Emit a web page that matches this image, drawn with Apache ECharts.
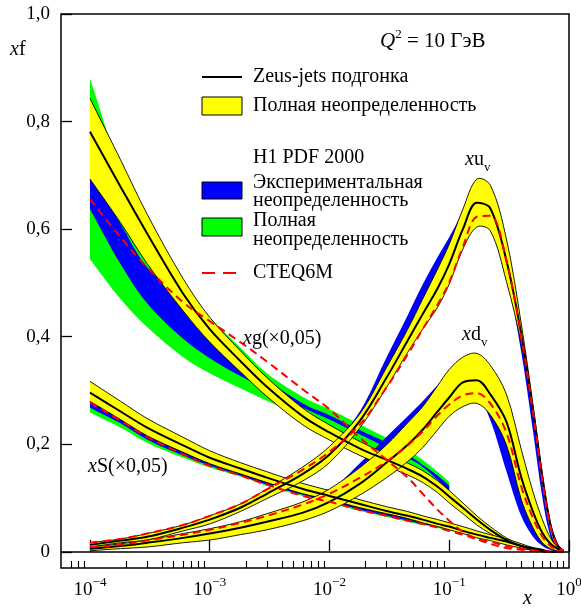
<!DOCTYPE html>
<html>
<head>
<meta charset="utf-8">
<script src="https://cdn.jsdelivr.net/npm/echarts@6/dist/echarts.min.js"></script>
<style>
  html, body { margin: 0; padding: 0; background: #fff; }
  #chart { width: 581px; height: 610px; }
</style>
</head>
<body>
<div id="chart"></div>
<script>
// x grid used by the Zeus and CTEQ curves
const xGrid = [0.0001, 0.00018, 0.0003, 0.0006, 0.001, 0.0018, 0.003, 0.006, 0.01, 0.018, 0.03, 0.045, 0.06, 0.08, 0.1,
  0.13, 0.17, 0.22, 0.3, 0.4, 0.5, 0.6, 0.7, 0.8, 0.9];
// H1 gluon / sea bands stop at x = 0.1
const xH1Sea = [0.0001, 0.00018, 0.0003, 0.0006, 0.001, 0.0018, 0.003, 0.006, 0.01, 0.018, 0.03, 0.045, 0.06, 0.08, 0.1];
// H1 valence bands
const xH1Val = [0.003, 0.006, 0.01, 0.018, 0.03, 0.045, 0.06, 0.08, 0.1, 0.13, 0.17, 0.22, 0.3, 0.4, 0.5, 0.6, 0.7, 0.8, 0.9];

// xg (x0,05)
const gZeus = [0.781, 0.679, 0.592, 0.480, 0.414, 0.355, 0.307, 0.252, 0.222, 0.192, 0.171, 0.154, 0.140, 0.121, 0.103, 0.082, 0.060, 0.041, 0.022, 0.011, 0.006, 0.002, 0, 0, 0];
const gZeusHi = [0.843, 0.729, 0.628, 0.508, 0.436, 0.374, 0.324, 0.267, 0.236, 0.205, 0.182, 0.165, 0.151, 0.132, 0.114, 0.091, 0.067, 0.047, 0.026, 0.013, 0.007, 0.003, 0, 0, 0];
const gZeusLo = [0.693, 0.612, 0.536, 0.448, 0.390, 0.335, 0.289, 0.236, 0.208, 0.179, 0.159, 0.143, 0.129, 0.110, 0.091, 0.071, 0.050, 0.034, 0.017, 0.007, 0.003, 0.001, 0, 0, 0];
const gH1TotHi = [0.880, 0.712, 0.618, 0.502, 0.436, 0.380, 0.332, 0.288, 0.265, 0.237, 0.212, 0.190, 0.171, 0.149, 0.130];
const gH1TotLo = [0.544, 0.470, 0.418, 0.362, 0.332, 0.304, 0.281, 0.251, 0.228, 0.203, 0.181, 0.162, 0.147, 0.125, 0.097];
const gH1ExpHi = [0.703, 0.610, 0.529, 0.470, 0.414, 0.365, 0.321, 0.276, 0.254, 0.226, 0.203, 0.181, 0.162, 0.142, 0.123];
const gH1ExpLo = [0.637, 0.535, 0.462, 0.396, 0.360, 0.327, 0.302, 0.268, 0.246, 0.218, 0.194, 0.175, 0.158, 0.134, 0.108];
const gCteq = [0.656, 0.585, 0.529, 0.464, 0.429, 0.390, 0.354, 0.302, 0.265, 0.212, 0.171, 0.138, 0.108, 0.078, 0.058, 0.037, 0.024, 0.015, 0.007, 0.004, 0.002, 0, 0, 0, 0];

// xS (x0,05)
const sZeus = [0.296, 0.261, 0.231, 0.198, 0.175, 0.155, 0.138, 0.117, 0.104, 0.089, 0.076, 0.067, 0.060, 0.052, 0.047, 0.039, 0.032, 0.026, 0.019, 0.011, 0.006, 0.003, 0, 0, 0];
const sZeusHi = [0.317, 0.280, 0.248, 0.213, 0.188, 0.166, 0.149, 0.127, 0.114, 0.097, 0.084, 0.075, 0.067, 0.060, 0.054, 0.047, 0.039, 0.032, 0.024, 0.015, 0.008, 0.005, 0, 0, 0];
const sZeusLo = [0.280, 0.246, 0.216, 0.185, 0.164, 0.145, 0.129, 0.108, 0.097, 0.082, 0.071, 0.062, 0.054, 0.047, 0.041, 0.034, 0.026, 0.021, 0.013, 0.007, 0.003, 0.001, 0, 0, 0];
const sH1TotHi = [0.287, 0.250, 0.220, 0.188, 0.168, 0.149, 0.132, 0.112, 0.101, 0.086, 0.075, 0.065, 0.058, 0.050, 0.045];
const sH1TotLo = [0.259, 0.231, 0.203, 0.175, 0.157, 0.140, 0.123, 0.104, 0.091, 0.076, 0.065, 0.056, 0.050, 0.045, 0.037];
const sH1ExpHi = [0.283, 0.248, 0.218, 0.186, 0.166, 0.147, 0.130, 0.110, 0.099, 0.084, 0.073, 0.063, 0.056, 0.048, 0.043];
const sH1ExpLo = [0.268, 0.239, 0.209, 0.179, 0.160, 0.142, 0.125, 0.106, 0.093, 0.078, 0.067, 0.058, 0.052, 0.047, 0.039];
const sCteq = [0.278, 0.244, 0.214, 0.181, 0.160, 0.142, 0.125, 0.104, 0.093, 0.078, 0.067, 0.058, 0.052, 0.045, 0.039, 0.032, 0.024, 0.019, 0.011, 0.006, 0.003, 0.001, 0, 0, 0];

// xu_v
const uZeus = [0.013, 0.021, 0.028, 0.045, 0.060, 0.082, 0.108, 0.145, 0.181, 0.244, 0.324, 0.393, 0.442, 0.490, 0.535, 0.600, 0.649, 0.639, 0.542, 0.404, 0.265, 0.138, 0.050, 0.013, 0.002];
const uZeusHi = [0.017, 0.024, 0.034, 0.050, 0.067, 0.089, 0.117, 0.158, 0.196, 0.257, 0.343, 0.414, 0.470, 0.526, 0.572, 0.637, 0.693, 0.682, 0.582, 0.423, 0.274, 0.144, 0.054, 0.015, 0.002];
const uZeusLo = [0.009, 0.017, 0.022, 0.039, 0.052, 0.075, 0.099, 0.132, 0.166, 0.231, 0.306, 0.371, 0.414, 0.455, 0.498, 0.563, 0.604, 0.597, 0.503, 0.386, 0.255, 0.132, 0.047, 0.011, 0.001];
const uH1ExpHi = [0.110, 0.150, 0.190, 0.262, 0.362, 0.440, 0.497, 0.548, 0.585, 0.630, 0.660, 0.650, 0.550, 0.400, 0.255, 0.125, 0.040, 0.008, 0];
const uH1ExpLo = [0.102, 0.138, 0.172, 0.236, 0.318, 0.388, 0.440, 0.490, 0.530, 0.585, 0.615, 0.605, 0.515, 0.370, 0.225, 0.100, 0.028, 0.005, 0];
const uCteq = [0.017, 0.024, 0.034, 0.050, 0.067, 0.089, 0.116, 0.153, 0.186, 0.237, 0.306, 0.367, 0.414, 0.460, 0.501, 0.567, 0.623, 0.625, 0.541, 0.399, 0.261, 0.132, 0.047, 0.011, 0.002];

// xd_v
const dZeus = [0.006, 0.011, 0.017, 0.026, 0.034, 0.045, 0.056, 0.073, 0.093, 0.127, 0.166, 0.199, 0.227, 0.261, 0.287, 0.315, 0.319, 0.293, 0.242, 0.138, 0.075, 0.035, 0.015, 0.006, 0.002];
const dZeusHi = [0.009, 0.015, 0.022, 0.034, 0.043, 0.056, 0.071, 0.093, 0.117, 0.157, 0.199, 0.240, 0.270, 0.309, 0.339, 0.362, 0.369, 0.347, 0.293, 0.190, 0.112, 0.060, 0.026, 0.009, 0.002];
const dZeusLo = [0.002, 0.006, 0.009, 0.017, 0.022, 0.032, 0.041, 0.058, 0.076, 0.106, 0.138, 0.168, 0.194, 0.227, 0.252, 0.270, 0.276, 0.255, 0.199, 0.097, 0.045, 0.017, 0.006, 0.002, 0];
const dH1ExpHi = [0.066, 0.088, 0.112, 0.165, 0.214, 0.252, 0.280, 0.310, 0.328, 0.335, 0.325, 0.298, 0.215, 0.118, 0.060, 0.028, 0.010, 0.003, 0];
const dH1ExpLo = [0.058, 0.078, 0.100, 0.145, 0.190, 0.226, 0.255, 0.283, 0.300, 0.305, 0.293, 0.245, 0.150, 0.066, 0.028, 0.011, 0.004, 0, 0];
const dCteq = [0.009, 0.013, 0.021, 0.032, 0.041, 0.054, 0.067, 0.088, 0.108, 0.138, 0.168, 0.198, 0.224, 0.254, 0.274, 0.291, 0.295, 0.276, 0.222, 0.121, 0.063, 0.028, 0.011, 0.004, 0];

// axis ticks
const xMajorTicks = [1e-4, 1e-3, 1e-2, 1e-1, 1];
const yTicks = [0, 0.2, 0.4, 0.6, 0.8, 1.0];
const xMinorTicks = [7e-5, 8e-5, 9e-5];
[1e-4, 1e-3, 1e-2, 1e-1].forEach(d => {
    for (let m = 2; m <= 9; m++) xMinorTicks.push(+(m * d).toPrecision(3));
});

const FONT = '"Liberation Serif", "DejaVu Serif", serif';
const YELLOW = '#ffff00';
const BLUE = '#0000ff';
const GREEN = '#00ff00';
const RED = '#ff0000';
const SMOOTH = 0.35;

// bezier path through pixel points, same idea as the line series smoothing
const smoothD = pts => {
    const n = pts.length;
    const ctrl = pts.map((p, i) => {
        const a = pts[Math.max(i - 1, 0)], b = pts[Math.min(i + 1, n - 1)];
        const vx = b[0] - a[0], vy = b[1] - a[1];
        const lp = Math.hypot(p[0] - a[0], p[1] - a[1]);
        const ln = Math.hypot(b[0] - p[0], b[1] - p[1]);
        const s = lp + ln || 1;
        return [
            [p[0] - vx * SMOOTH * lp / s, p[1] - vy * SMOOTH * lp / s],
            [p[0] + vx * SMOOTH * ln / s, p[1] + vy * SMOOTH * ln / s],
        ];
    });
    let d = '';
    for (let i = 1; i < n; i++) {
        const c1 = ctrl[i - 1][1], c2 = ctrl[i][0], p = pts[i];
        d += ' C' + c1[0] + ' ' + c1[1] + ' ' + c2[0] + ' ' + c2[1] + ' ' + p[0] + ' ' + p[1];
    }
    return d;
};

// filled band between lo and hi, drawn once through the axes
const band = (xs, lo, hi, color, edged) => ({
    type: 'custom', silent: true,
    data: xs.map((x, i) => [x, lo[i], hi[i]]),
    encode: { x: 0, y: [1, 2] },
    renderItem: (params, api) => {
        if (params.dataIndex !== 0) return null;
        const up = xs.map((x, i) => api.coord([x, hi[i]]));
        const dn = xs.map((x, i) => api.coord([x, lo[i]])).reverse();
        const upD = 'M' + up[0][0] + ' ' + up[0][1] + smoothD(up);
        const dnD = 'M' + dn[0][0] + ' ' + dn[0][1] + smoothD(dn);
        const children = [{
            type: 'path',
            shape: { pathData: upD + ' L' + dn[0][0] + ' ' + dn[0][1] + smoothD(dn) + ' Z' },
            style: { fill: color, stroke: null },
        }];
        if (edged) {
            children.push({ type: 'path', shape: { pathData: upD }, style: { fill: null, stroke: '#000', lineWidth: 0.9 } });
            children.push({ type: 'path', shape: { pathData: dnD }, style: { fill: null, stroke: '#000', lineWidth: 0.9 } });
        }
        return { type: 'group', children: children };
    },
});
const curve = (xs, ys, style) => ({
    type: 'line', data: xs.map((x, i) => [x, ys[i]]), symbol: 'none', smooth: SMOOTH, silent: true, lineStyle: style,
});
const solid = { color: '#000', width: 2 };
const dashed = { color: RED, width: 2, type: [8, 5] };

const series = [
    band(xH1Sea, gH1TotLo, gH1TotHi, GREEN, false),
    band(xH1Sea, sH1TotLo, sH1TotHi, GREEN, false),
    band(xH1Sea, gH1ExpLo, gH1ExpHi, BLUE, false),
    band(xH1Sea, sH1ExpLo, sH1ExpHi, BLUE, false),
    band(xH1Val, uH1ExpLo, uH1ExpHi, BLUE, false),
    band(xH1Val, dH1ExpLo, dH1ExpHi, BLUE, false),
    band(xGrid, gZeusLo, gZeusHi, YELLOW, true),
    band(xGrid, sZeusLo, sZeusHi, YELLOW, true),
    band(xGrid, uZeusLo, uZeusHi, YELLOW, true),
    band(xGrid, dZeusLo, dZeusHi, YELLOW, true),
    curve(xGrid, gZeus, solid),
    curve(xGrid, sZeus, solid),
    curve(xGrid, uZeus, solid),
    curve(xGrid, dZeus, solid),
    curve(xGrid, gCteq, dashed),
    curve(xGrid, sCteq, dashed),
    curve(xGrid, uCteq, dashed),
    curve(xGrid, dCteq, dashed),
];
// line at y = 0
series[10].markLine = {
    silent: true, symbol: 'none', label: { show: false },
    lineStyle: { color: '#000', width: 1.5, type: 'solid' },
    data: [{ yAxis: 0 }],
};

const txt = (x, y, text, rich) => ({
    type: 'text', x: x, y: y, z: 100, silent: true,
    style: { text: text, font: '20px ' + FONT, fill: '#000', verticalAlign: 'middle', rich: rich || {} },
});

const italicRich = {
    i: { fontFamily: FONT, fontSize: 20, fontStyle: 'italic', color: '#000', lineHeight: 24, verticalAlign: 'top' },
    n: { fontFamily: FONT, fontSize: 20, color: '#000', lineHeight: 24, verticalAlign: 'top' },
    sub: { fontFamily: FONT, fontSize: 13, color: '#000', lineHeight: 24, verticalAlign: 'bottom' },
    sup: { fontFamily: FONT, fontSize: 13, color: '#000', lineHeight: 24, verticalAlign: 'top' },
    nb: { fontFamily: FONT, fontSize: 21, color: '#000', lineHeight: 24, verticalAlign: 'bottom' },
    ib: { fontFamily: FONT, fontSize: 21, fontStyle: 'italic', color: '#000', lineHeight: 24, verticalAlign: 'bottom' },
};

const graphic = [
    // legend
    { type: 'line', z: 100, silent: true, shape: { x1: 202, y1: 77, x2: 242, y2: 77 }, style: { stroke: '#000', lineWidth: 2 } },
    txt(253, 77, 'Zeus-jets подгонка'),
    { type: 'rect', z: 100, silent: true, shape: { x: 202, y: 97, width: 40, height: 18 }, style: { fill: YELLOW, stroke: '#000', lineWidth: 1 } },
    txt(253, 106, 'Полная неопределенность'),
    txt(253, 158, 'H1 PDF 2000'),
    { type: 'rect', z: 100, silent: true, shape: { x: 202, y: 182, width: 40, height: 17 }, style: { fill: BLUE, stroke: '#000', lineWidth: 1 } },
    txt(253, 183, 'Экспериментальная'),
    txt(253, 201, 'неопределенность'),
    { type: 'rect', z: 100, silent: true, shape: { x: 202, y: 218, width: 40, height: 18 }, style: { fill: GREEN, stroke: '#000', lineWidth: 1 } },
    txt(253, 221, 'Полная'),
    txt(253, 240, 'неопределенность'),
    { type: 'line', z: 100, silent: true, shape: { x1: 202, y1: 273, x2: 240, y2: 273 }, style: { stroke: RED, lineWidth: 2, lineDash: [13, 8] } },
    txt(253, 273, 'CTEQ6M'),
    txt(380, 40, '{ib|Q}{sup|2}{nb| = 10 ГэВ}', italicRich),
    // curve labels
    txt(465, 162, '{i|x}{n|u}{sub|v}', italicRich),
    txt(462, 337, '{i|x}{n|d}{sub|v}', italicRich),
    txt(243, 341, '{i|x}{n|g(×0,05)}', italicRich),
    txt(88, 469, '{i|x}{n|S(×0,05)}', italicRich),
    // axis titles
    txt(10, 52, '{i|x}{n|f}', italicRich),
    txt(523, 601, '{i|x}', italicRich),
];

const chart = echarts.init(document.getElementById('chart'));
chart.setOption({
    backgroundColor: '#fff',
    animation: false,
    grid: {
        left: 61, right: 12, top: 14, bottom: 42,
        show: true, borderColor: '#000', borderWidth: 1.5,
        outerBoundsMode: 'none',
    },
    xAxis: [
        {
            type: 'log', logBase: 10, min: 5.73e-5, max: 1, position: 'bottom',
            axisLine: { show: false }, splitLine: { show: false },
            axisTick: { inside: true, length: 12, customValues: xMajorTicks, lineStyle: { color: '#000', width: 1.3 } },
            axisLabel: {
                customValues: xMajorTicks, margin: 8,
                formatter: v => {
                    const e = Math.round(Math.log10(v));
                    return '{b|10}{e|' + (e < 0 ? '\u2212' + (-e) : e) + '}';
                },
                rich: {
                    b: { fontFamily: FONT, fontSize: 19, color: '#000', lineHeight: 24, verticalAlign: 'bottom' },
                    e: { fontFamily: FONT, fontSize: 13, color: '#000', lineHeight: 24, verticalAlign: 'top' },
                },
            },
        },
        {
            type: 'log', logBase: 10, min: 5.73e-5, max: 1, position: 'bottom',
            axisLine: { show: false }, splitLine: { show: false },
            axisTick: { inside: true, length: 7, customValues: xMinorTicks, lineStyle: { color: '#000', width: 1.1 } },
            axisLabel: { show: false },
        },
    ],
    yAxis: {
        type: 'value', min: -0.03, max: 1,
        axisLine: { show: false }, splitLine: { show: false },
        axisTick: { inside: true, length: 11, customValues: yTicks, lineStyle: { color: '#000', width: 1.3 } },
        axisLabel: {
            customValues: yTicks, margin: 11, fontFamily: FONT, fontSize: 19, color: '#000',
            formatter: v => (v === 0 ? '0' : v.toFixed(1).replace('.', ',')),
        },
    },
    series: series,
    graphic: graphic,
});
</script>
</body>
</html>
